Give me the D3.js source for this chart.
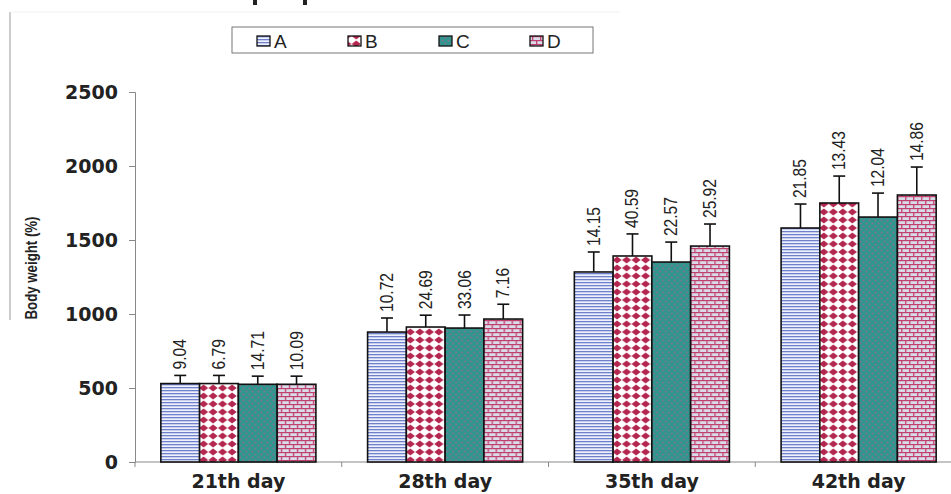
<!DOCTYPE html>
<html><head><meta charset="utf-8">
<script src="https://cdn.jsdelivr.net/npm/d3@7"></script>
<style>
html,body{margin:0;padding:0;background:#fff;}
svg{display:block;}
</style></head>
<body><svg id="chart" width="951" height="494"></svg>
<script>
const categories = ["21th day","28th day","35th day","42th day"];
const seriesNames = ["A","B","C","D"];
const valuesA = [530, 878, 1284, 1581];
const valuesB = [530, 912, 1392, 1750];
const valuesC = [525, 905, 1351, 1655];
const valuesD = [525, 966, 1459, 1804];
const errA = [55, 95, 135, 162];
const errB = [55, 80, 149, 182];
const errC = [55, 88, 135, 162];
const errD = [55, 100, 149, 189];
const labelsA = ["9.04","10.72","14.15","21.85"];
const labelsB = ["6.79","24.69","40.59","13.43"];
const labelsC = ["14.71","33.06","22.57","12.04"];
const labelsD = ["10.09","7.16","25.92","14.86"];
const yTicks = [0, 500, 1000, 1500, 2000, 2500];

const values = [valuesA, valuesB, valuesC, valuesD];
const errs = [errA, errB, errC, errD];
const labels = [labelsA, labelsB, labelsC, labelsD];

const svg = d3.select("#chart");
const defs = svg.append("defs");

// Patterns
const pA = defs.append("pattern").attr("id","patA").attr("patternUnits","userSpaceOnUse").attr("width",4).attr("height",3);
pA.append("rect").attr("width",4).attr("height",3).attr("fill","#eef1fb");
pA.append("rect").attr("y",0).attr("width",4).attr("height",1.3).attr("fill","#6f80cc");

const pB = defs.append("pattern").attr("id","patB").attr("patternUnits","userSpaceOnUse").attr("width",9.5).attr("height",8);
pB.append("rect").attr("width",9.5).attr("height",8).attr("fill","#ffffff");
pB.append("polygon").attr("points","4.75,0.6 9.3,4 4.75,7.4 0.2,4").attr("fill","#b3264f");

const pC = defs.append("pattern").attr("id","patC").attr("patternUnits","userSpaceOnUse").attr("width",6).attr("height",6);
pC.append("rect").attr("width",6).attr("height",6).attr("fill","#2e968c");
pC.append("circle").attr("cx",1.5).attr("cy",1.5).attr("r",1).attr("fill","#8a7096");
pC.append("circle").attr("cx",4.5).attr("cy",4.5).attr("r",1).attr("fill","#8a7096");

const pD = defs.append("pattern").attr("id","patD").attr("patternUnits","userSpaceOnUse").attr("width",8).attr("height",8);
pD.append("rect").attr("width",8).attr("height",8).attr("fill","#d9dce8");
pD.append("rect").attr("y",0).attr("width",8).attr("height",1.2).attr("fill","#c2406f");
pD.append("rect").attr("y",4).attr("width",8).attr("height",1.2).attr("fill","#c2406f");
pD.append("rect").attr("x",0).attr("y",0).attr("width",1.3).attr("height",4).attr("fill","#c2406f");
pD.append("rect").attr("x",4).attr("y",4).attr("width",1.3).attr("height",4).attr("fill","#c2406f");

const fills = ["url(#patA)","url(#patB)","url(#patC)","url(#patD)"];

// Frame remnants of scan
svg.append("line").attr("x1",10).attr("x2",10).attr("y1",12).attr("y2",320).attr("stroke","#aaa").attr("stroke-width",1.2);
svg.append("line").attr("x1",10).attr("x2",620).attr("y1",12).attr("y2",12).attr("stroke","#f0f0f0").attr("stroke-width",1);

// fragments of cropped heading (descenders only)
svg.append("path").attr("d","M253,0 h4 v5 h-4 Z M303,0 h4 v5 h-4 Z").attr("fill","#222");

// Scales
const x0 = d3.scaleBand().domain(categories).range([135, 962]).paddingInner(0.25).paddingOuter(0.125);
const x1 = d3.scaleBand().domain(seriesNames).range([0, x0.bandwidth()]);
const y = d3.scaleLinear().domain([0, 2500]).range([462, 92]);

// Y axis
const yAxis = svg.append("g").attr("transform","translate(135,0)")
  .call(d3.axisLeft(y).tickValues(yTicks).tickFormat(d3.format("d")).tickSize(6).tickPadding(11));
yAxis.select(".domain").attr("stroke","#888").attr("stroke-width",1);
yAxis.selectAll(".tick line").attr("stroke","#888");
yAxis.selectAll(".tick text").attr("font-family","DejaVu Sans, sans-serif")
  .attr("font-weight","bold").attr("font-size",19).attr("fill","#222");

// X axis
const xAxisG = svg.append("g").attr("transform","translate(0,462)");
xAxisG.append("line").attr("x1",135).attr("x2",951).attr("y1",0).attr("y2",0).attr("stroke","#888").attr("stroke-width",1);
const boundaries = categories.map(c => x0(c) - x0.step()*x0.paddingInner()/2);
xAxisG.selectAll(".bt").data(boundaries).join("line")
  .attr("x1",d=>d).attr("x2",d=>d).attr("y1",0).attr("y2",5).attr("stroke","#888");
xAxisG.selectAll(".xl").data(categories).join("text")
  .attr("x",d=>x0(d)+x0.bandwidth()/2).attr("y",26)
  .attr("text-anchor","middle")
  .attr("font-family","DejaVu Sans, sans-serif").attr("font-weight","bold").attr("font-size",19).attr("fill","#222")
  .text(d=>d);

// Y label
svg.append("text").attr("transform","translate(37,268) rotate(-90) scale(0.78,1)")
  .attr("text-anchor","middle")
  .attr("font-family","Liberation Sans, Arial, sans-serif")
  .attr("font-weight","bold").attr("font-size",17).attr("fill","#222")
  .text("Body weight (%)");

// Bars
const groups = svg.selectAll(".grp").data(categories).join("g")
  .attr("transform", d => `translate(${x0(d)},0)`);

seriesNames.forEach((s, si) => {
  groups.append("rect")
    .attr("x", x1(s))
    .attr("y", (d,ci) => y(values[si][ci]))
    .attr("width", x1.bandwidth())
    .attr("height", (d,ci) => y(0) - y(values[si][ci]))
    .attr("fill", fills[si])
    .attr("stroke","#111").attr("stroke-width",1.6);
  // error bars
  groups.append("line")
    .attr("x1", x1(s)+x1.bandwidth()/2).attr("x2", x1(s)+x1.bandwidth()/2)
    .attr("y1", (d,ci) => y(values[si][ci]))
    .attr("y2", (d,ci) => y(values[si][ci]+errs[si][ci]))
    .attr("stroke","#111").attr("stroke-width",1.6);
  groups.append("line")
    .attr("x1", x1(s)+x1.bandwidth()/2-6).attr("x2", x1(s)+x1.bandwidth()/2+6)
    .attr("y1", (d,ci) => y(values[si][ci]+errs[si][ci]))
    .attr("y2", (d,ci) => y(values[si][ci]+errs[si][ci]))
    .attr("stroke","#111").attr("stroke-width",1.6);
  // labels
  groups.append("text")
    .attr("transform", (d,ci) => `translate(${x1(s)+x1.bandwidth()/2+6},${y(values[si][ci]+errs[si][ci])-6}) rotate(-90) scale(0.82,1)`)
    .attr("font-family","Liberation Sans, Arial, sans-serif")
    .attr("font-size",19).attr("fill","#222")
    .text((d,ci) => labels[si][ci]);
});

// Legend
const lg = svg.append("g");
lg.append("rect").attr("x",232).attr("y",27).attr("width",361).attr("height",26)
  .attr("fill","#fff").attr("stroke","#777").attr("stroke-width",1);
const legX = d3.scalePoint().domain(seriesNames).range([257, 530]);
seriesNames.forEach((s, si) => {
  lg.append("rect").attr("x",legX(s)).attr("y",36).attr("width",13).attr("height",10)
    .attr("fill",fills[si]).attr("stroke","#111").attr("stroke-width",1.3);
  lg.append("text").attr("x",legX(s)+17).attr("y",48)
    .attr("font-family","Liberation Sans, Arial, sans-serif").attr("font-size",19).attr("fill","#222")
    .text(s);
});
</script></body></html>
